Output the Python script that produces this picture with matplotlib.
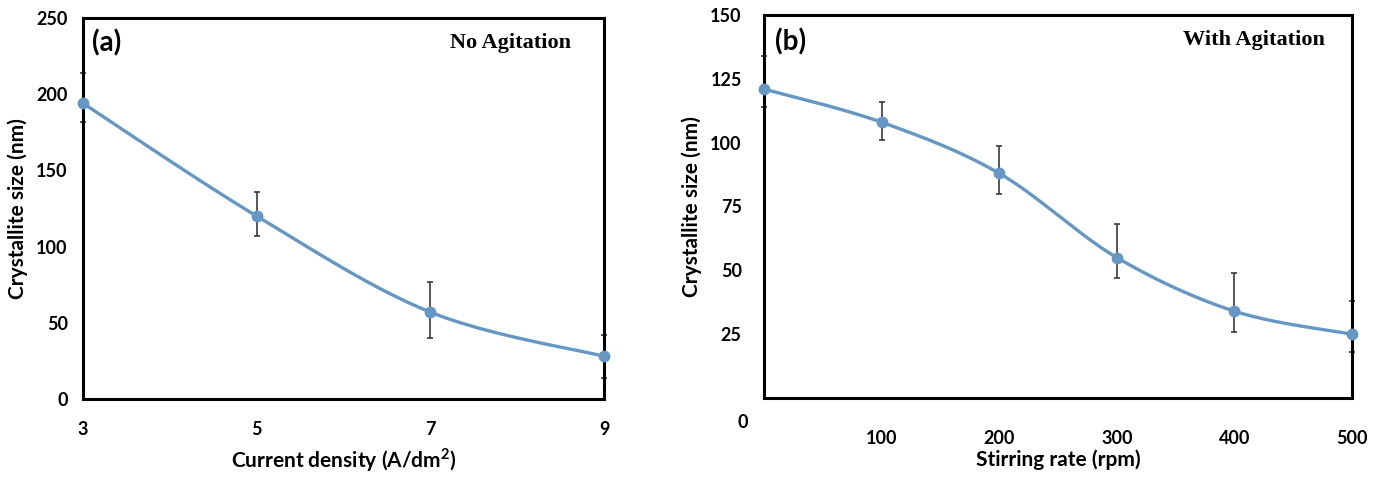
import numpy as np
import matplotlib.pyplot as plt

# panel (a): no agitation
current_density = [3, 5, 7, 9]
size_a = [194, 120, 57, 28]
err_a_low = [12, 13, 17, 14]
err_a_high = [20, 16, 20, 14]

# panel (b): with agitation
stirring_rate = [0, 100, 200, 300, 400, 500]
size_b = [121, 108, 88, 55, 34, 25]
err_b_low = [7, 7, 8, 8, 8, 7]
err_b_high = [13, 8, 10.5, 13, 15, 13]

LINE_COLOR = '#6497c4'
ERR_COLOR = '#3a3a3a'
SANS = 'Lato'
SERIF = 'Liberation Serif'

plt.rcParams['mathtext.fontset'] = 'custom'
plt.rcParams['mathtext.bf'] = 'Lato:bold'
plt.rcParams['mathtext.rm'] = 'Lato:bold'


def smooth_curve(xs, ys, n=40):
    """Excel-style smoothed line (Catmull-Rom as cubic Bezier)."""
    pts = np.column_stack([xs, ys]).astype(float)
    ext = np.vstack([pts[0], pts, pts[-1]])
    out = []
    t = np.linspace(0, 1, n)[:, None]
    for i in range(len(pts) - 1):
        p0, p1, p2, p3 = ext[i], ext[i + 1], ext[i + 2], ext[i + 3]
        c1 = p1 + (p2 - p0) / 6
        c2 = p2 - (p3 - p1) / 6
        seg = ((1 - t) ** 3) * p1 + 3 * ((1 - t) ** 2) * t * c1 \
            + 3 * (1 - t) * t ** 2 * c2 + t ** 3 * p2
        out.append(seg if i == 0 else seg[1:])
    out = np.vstack(out)
    return out[:, 0], out[:, 1]


def draw_panel(ax, xs, ys, lo, hi):
    sx, sy = smooth_curve(xs, ys)
    ax.errorbar(xs, ys, yerr=[lo, hi], fmt='none', ecolor=ERR_COLOR,
                elinewidth=1.2, capsize=2.5, capthick=1.2, clip_on=False, zorder=2)
    ax.plot(sx, sy, color=LINE_COLOR, lw=2.4, clip_on=False, zorder=3)
    ax.plot(xs, ys, 'o', color=LINE_COLOR, ms=7.5, clip_on=False, zorder=4)
    for s in ax.spines.values():
        s.set_linewidth(2.2)
        s.set_color('black')
        s.set_zorder(3.5)
    ax.tick_params(length=0, labelsize=13)
    for lab in ax.get_xticklabels() + ax.get_yticklabels():
        lab.set_fontfamily(SANS)
        lab.set_fontweight('bold')


fig = plt.figure(figsize=(13.82, 4.79), dpi=100)

# ---- (a)
ax1 = fig.add_axes([0.0601, 0.167, 0.377, 0.7954])
ax1.set_xlim(3, 9)
ax1.set_ylim(0, 250)
ax1.set_xticks(current_density)
ax1.set_yticks([0, 50, 100, 150, 200, 250])
draw_panel(ax1, current_density, size_a, err_a_low, err_a_high)
ax1.tick_params(axis='y', pad=11)
ax1.tick_params(axis='x', pad=16)
ax1.set_xlabel(r'Current density (A/dm$^{\mathbf{2}}$)', fontfamily=SANS, fontsize=15,
               fontweight='bold', labelpad=6)
ax1.set_ylabel('Crystallite size (nm)', fontfamily=SANS, fontsize=15,
               fontweight='bold', labelpad=6)
ax1.text(0.018, 0.935, '(a)', transform=ax1.transAxes, fontfamily=SANS,
         fontsize=20, fontweight='bold', va='center', ha='left')
ax1.text(0.937, 0.935, 'No Agitation', transform=ax1.transAxes, fontfamily=SERIF,
         fontsize=16, fontweight='bold', va='center', ha='right')

# ---- (b)
ax2 = fig.add_axes([0.5528, 0.1691, 0.4255, 0.7996])
ax2.set_xlim(0, 500)
ax2.set_ylim(0, 150)
ax2.set_xticks(stirring_rate[1:])
ax2.set_yticks([25, 50, 75, 100, 125, 150])
draw_panel(ax2, stirring_rate, size_b, err_b_low, err_b_high)
ax2.tick_params(axis='y', pad=16)
ax2.tick_params(axis='x', pad=23)
ax2.text(-0.036, -0.065, '0', transform=ax2.transAxes, fontfamily=SANS,
         fontsize=13, fontweight='bold', va='center', ha='center')
ax2.set_xlabel('Stirring rate (rpm)', fontfamily=SANS, fontsize=15,
               fontweight='bold', labelpad=2)
ax2.set_ylabel('Crystallite size (nm)', fontfamily=SANS, fontsize=15,
               fontweight='bold', labelpad=6)
ax2.text(0.018, 0.93, '(b)', transform=ax2.transAxes, fontfamily=SANS,
         fontsize=20, fontweight='bold', va='center', ha='left')
ax2.text(0.954, 0.935, 'With Agitation', transform=ax2.transAxes, fontfamily=SERIF,
         fontsize=16, fontweight='bold', va='center', ha='right')

plt.savefig('out.png', dpi=100)
